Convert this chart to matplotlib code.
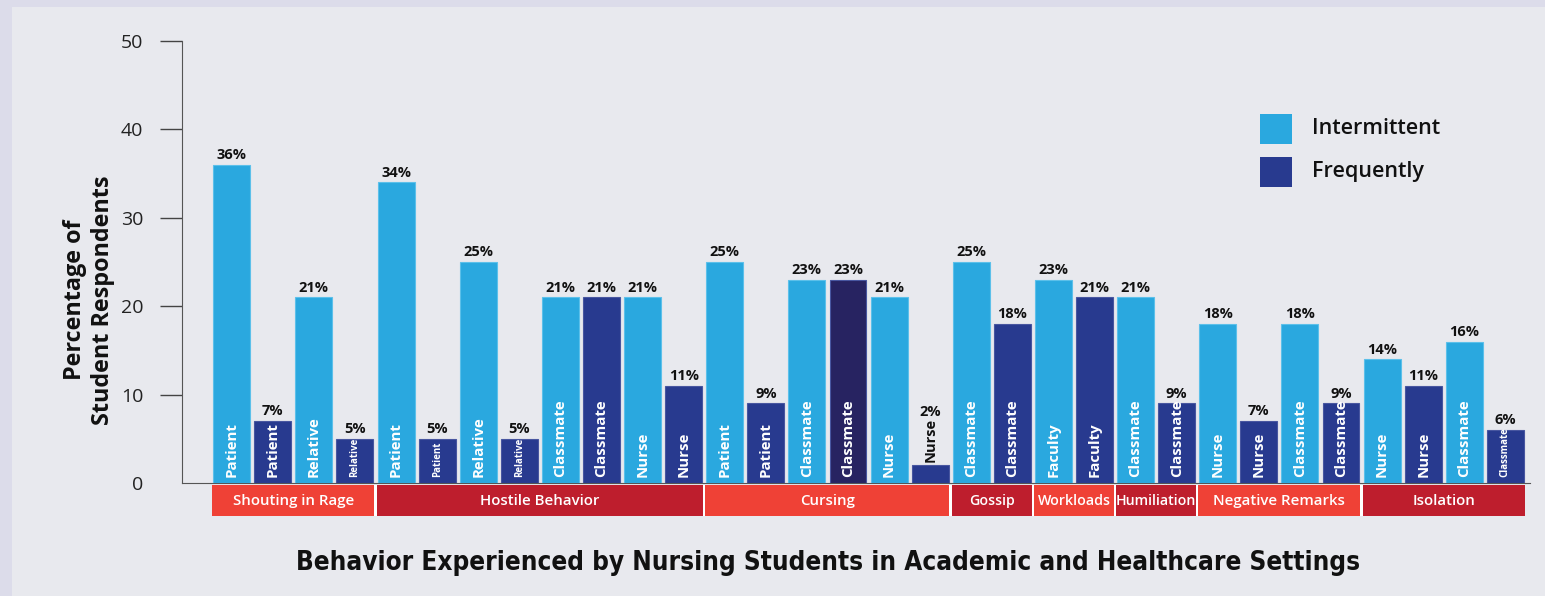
import matplotlib
matplotlib.use('Agg')
import matplotlib.pyplot as plt
from matplotlib.patches import Rectangle

# data
groups = ['Shouting in Rage', 'Hostile Behavior', 'Cursing', 'Gossip',
          'Workloads', 'Humiliation', 'Negative Remarks', 'Isolation']
group_sizes = [4, 8, 6, 2, 2, 2, 4, 4]
roles = ['Patient', 'Patient', 'Relative', 'Relative',
         'Patient', 'Patient', 'Relative', 'Relative', 'Classmate', 'Classmate', 'Nurse', 'Nurse',
         'Patient', 'Patient', 'Classmate', 'Classmate', 'Nurse', 'Nurse',
         'Classmate', 'Classmate',
         'Faculty', 'Faculty',
         'Classmate', 'Classmate',
         'Nurse', 'Nurse', 'Classmate', 'Classmate',
         'Nurse', 'Nurse', 'Classmate', 'Classmate']
values = [36, 7, 21, 5,
          34, 5, 25, 5, 21, 21, 21, 11,
          25, 9, 23, 23, 21, 2,
          25, 18,
          23, 21,
          21, 9,
          18, 7, 18, 9,
          14, 11, 16, 6]
kinds = ['Intermittent', 'Frequently'] * 16

# styling
light = '#2aa8df'
dark = '#283a8f'
darkest = '#272361'
box_colors = ['#ef4136', '#be1e2d']
small_labels = {3, 5, 7, 31}
outside_labels = {17}
special_dark = {15}

plt.rcParams['font.family'] = ['Open Sans', 'DejaVu Sans']

fig = plt.figure(figsize=(15.45, 5.96), dpi=100)
fig.patch.set_facecolor('#dcdcea')
fig.patches.append(Rectangle((12 / 1545, 0), 1, (596 - 7) / 596, transform=fig.transFigure,
                             facecolor='#e8e9ee', edgecolor='none', zorder=-5))

ax = fig.add_axes([182 / 1545, 113 / 596, (1530 - 182) / 1545, 442 / 596])
ax.set_facecolor('none')

x = list(range(len(values)))
colors = []
for i, k in enumerate(kinds):
    if i in special_dark:
        colors.append(darkest)
    elif k == 'Intermittent':
        colors.append(light)
    else:
        colors.append(dark)
edges = ['#5cc0ea' if c == light else '#4856a0' for c in colors]
ax.bar(x, values, width=0.9, color=colors, edgecolor=edges, linewidth=0.8, zorder=3)

for i, v in enumerate(values):
    if i in outside_labels:
        ax.text(i, v + 0.4, roles[i], rotation=90, ha='center', va='bottom',
                fontsize=10.5, fontweight='bold', color='#111111', zorder=4)
        ax.text(i, v + 5.2, f'{v}%', ha='center', va='bottom',
                fontsize=10.5, fontweight='bold', color='#111111', zorder=4)
        continue
    ax.text(i, v + 0.3, f'{v}%', ha='center', va='bottom',
            fontsize=10.5, fontweight='bold', color='#111111', zorder=4)
    fs = 7 if i in small_labels else 10.8
    ax.text(i, 0.7, roles[i], rotation=90, ha='center', va='bottom',
            fontsize=fs, fontweight='bold', color='white', zorder=4)

# category boxes under the axis
ax.add_patch(Rectangle((-0.47, -3.75), len(values) - 0.06, 3.5, facecolor='white',
                       edgecolor='none', clip_on=False, zorder=2))
start = 0
for j, (g, n) in enumerate(zip(groups, group_sizes)):
    left = start - 0.47
    right = start + n - 1 + 0.47
    ax.add_patch(Rectangle((left, -3.75), right - left, 3.5, facecolor=box_colors[j % 2],
                           edgecolor='none', clip_on=False, zorder=3))
    ax.text((left + right) / 2, -2.0, g, ha='center', va='center',
            fontsize=10.8 if n > 2 else 10.2,
            fontweight='semibold', color='white', zorder=4)
    start += n

ax.set_xlim(-1.21, 31.6)
ax.set_ylim(0, 50)
ax.set_xticks([])
ax.set_yticks([0, 10, 20, 30, 40, 50])
ax.tick_params(axis='y', length=16, width=1, color='#444444', pad=12, labelsize=14,
               labelcolor='#222222')
ax.yaxis.get_major_ticks()[0].tick1line.set_visible(False)
for s in ['top', 'right']:
    ax.spines[s].set_visible(False)
ax.spines['left'].set_color('#555555')
ax.spines['bottom'].set_color('#555555')

fig.text(89 / 1545, 1 - 300 / 596, 'Percentage of\nStudent Respondents', rotation=90,
         ha='center', va='center', fontsize=16.8, fontweight='bold', color='#111111',
         linespacing=1.2)

# legend
for k, (lab, c) in enumerate([('Intermittent', light), ('Frequently', dark)]):
    top = 114 + k * 43
    fig.patches.append(Rectangle((1260 / 1545, 1 - (top + 30) / 596), 32 / 1545, 30 / 596,
                                 transform=fig.transFigure, facecolor=c, edgecolor='none'))
    fig.text(1312 / 1545, 1 - (top + 15) / 596, lab, ha='left', va='center', fontsize=15.5,
             fontweight='semibold', color='#111111')

fig.text(828 / 1545, 1 - 563 / 596,
         'Behavior Experienced by Nursing Students in Academic and Healthcare Settings',
         ha='center', va='center', fontsize=18.7, fontweight='bold', color='#111111',
         family=['DejaVu Sans'], fontstretch='condensed')

fig.savefig('out.png', dpi=100, facecolor=fig.get_facecolor())
